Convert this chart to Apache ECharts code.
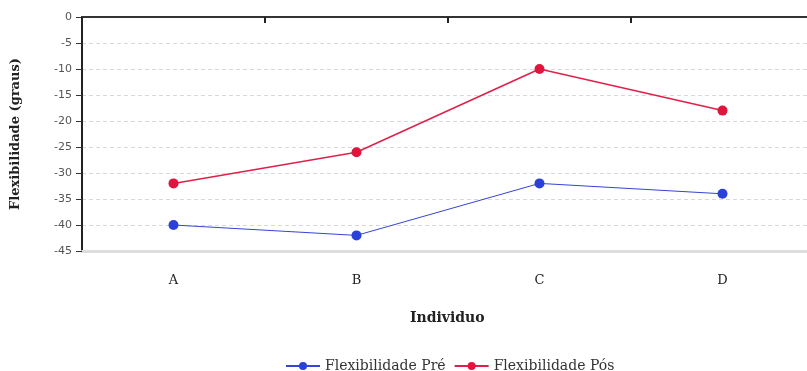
<!DOCTYPE html>
<html>
<head>
<meta charset="utf-8">
<script src="https://cdn.jsdelivr.net/npm/echarts@6/dist/echarts.min.js"></script>
<style>html,body{margin:0;padding:0;background:#fff}#c{width:807px;height:371px}</style>
</head>
<body>
<div id="c"></div>
<script>
var categories = ['A', 'B', 'C', 'D'];
var seriesNames = ['Flexibilidade Pré', 'Flexibilidade Pós'];
var preValues = [-40, -42, -32, -34];
var posValues = [-32, -26, -10, -18];
var yTicks = { min: -45, max: 0, interval: 5 };

var chart = echarts.init(document.getElementById('c'), null, { renderer: 'canvas' });
var serif = '"DejaVu Serif", "Liberation Serif", serif';
chart.setOption({
  animation: false,
  backgroundColor: '#ffffff',
  grid: { left: 82, top: 17, right: -7, height: 234, containLabel: false, outerBoundsMode: 'none' },
  legend: {
    data: seriesNames,
    left: 280, top: 354,
    itemWidth: 34, itemHeight: 10, itemGap: 8,
    textStyle: { fontFamily: serif, fontSize: 14, color: '#333' }
  },
  xAxis: [
    {
      type: 'category', data: categories, position: 'bottom',
      axisLine: { onZero: false, lineStyle: { color: '#dddddd', width: 3 } },
      axisTick: { show: false },
      axisLabel: { fontFamily: serif, fontSize: 13, color: '#222', margin: 23 },
      splitLine: { show: false }
    },
    {
      type: 'category', data: categories, position: 'top',
      axisLine: { onZero: false, lineStyle: { color: '#333', width: 2 } },
      axisTick: { show: true, inside: true, length: 6, lineStyle: { color: '#222', width: 2 } },
      axisLabel: { show: false },
      splitLine: { show: false }
    }
  ],
  yAxis: {
    type: 'value', min: yTicks.min, max: yTicks.max, interval: yTicks.interval,
    name: 'Flexibilidade (graus)', nameLocation: 'middle', nameGap: 60,
    nameTextStyle: { fontFamily: serif, fontSize: 13, fontWeight: 'bold', color: '#222' },
    axisLine: { show: true, lineStyle: { color: '#222', width: 2 } },
    axisTick: { show: true, length: 6, lineStyle: { color: '#333' } },
    axisLabel: { fontFamily: '"DejaVu Sans", sans-serif', fontSize: 11, color: '#555', margin: 10 },
    splitLine: { show: true, lineStyle: { color: '#d8d8d8', type: [4, 3], width: 1 } }
  },
  graphic: [{
    type: 'text', left: 410, top: 311,
    style: { text: 'Individuo', font: 'bold 14px ' + serif, fill: '#222' }
  }],
  series: [
    {
      name: seriesNames[0], type: 'line', data: preValues,
      symbol: 'circle', symbolSize: 10, xAxisIndex: 0,
      itemStyle: { color: '#2b3fd9' },
      lineStyle: { color: '#3545d4', width: 1 }
    },
    {
      name: seriesNames[1], type: 'line', data: posValues,
      symbol: 'circle', symbolSize: 10, xAxisIndex: 0,
      itemStyle: { color: '#e0143c' },
      lineStyle: { color: '#e0204a', width: 1.5 }
    }
  ]
});
</script>
</body>
</html>
